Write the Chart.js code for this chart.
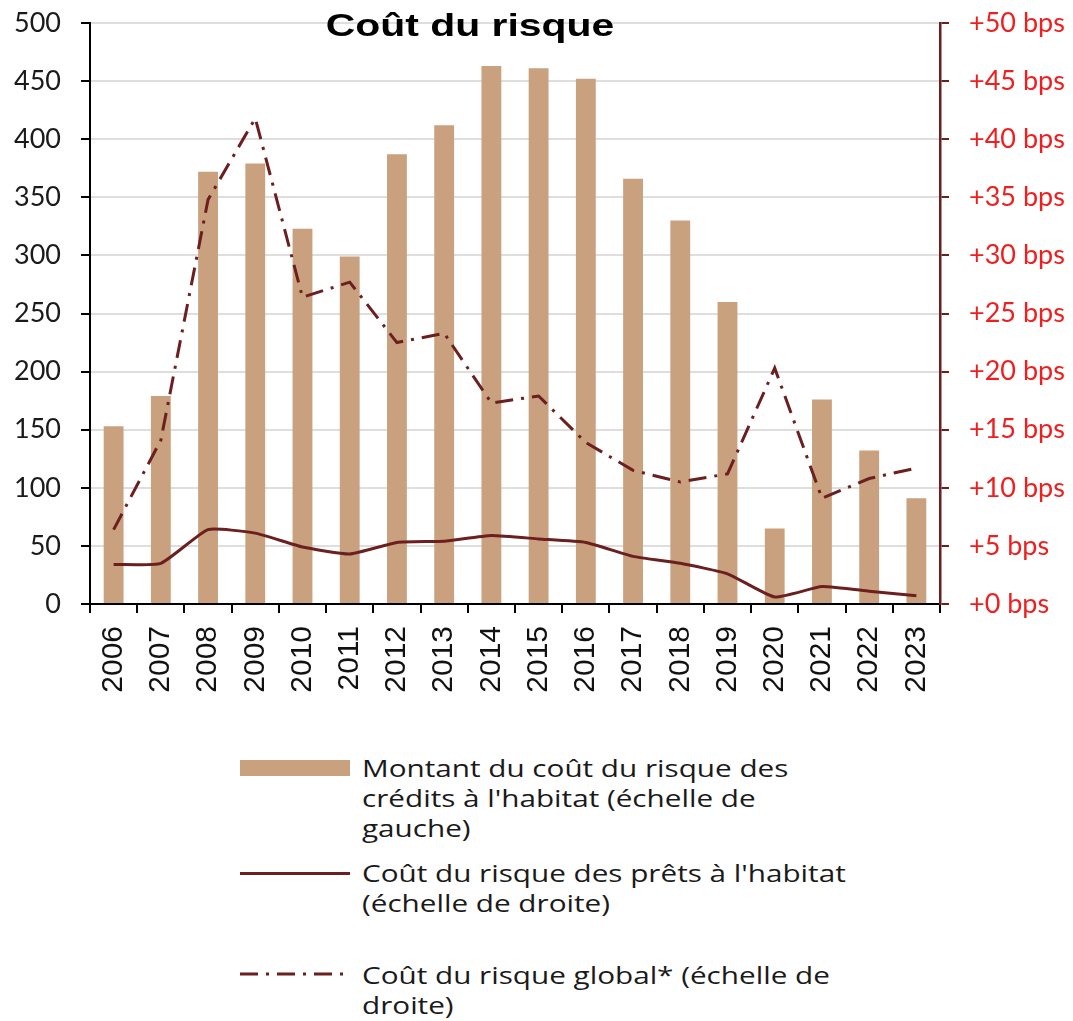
<!DOCTYPE html>
<html lang="fr">
<head>
<meta charset="utf-8">
<title>Coût du risque</title>
<script src="https://cdn.jsdelivr.net/npm/chart.js@4/dist/chart.umd.min.js"></script>
<style>
  html, body { margin: 0; padding: 0; background: #fff; }
  #wrap { position: relative; width: 1073px; height: 1021px; }
  #chart-box { position: absolute; left: 0; top: 0; width: 1073px; height: 700px; }
  #title {
    position: absolute; left: 270px; top: 8px; width: 400px; text-align: center;
    font-family: "Liberation Sans", Arial, sans-serif; font-weight: bold; font-size: 31px; color: #000;
    transform: scaleX(1.32); transform-origin: 200px 0;
  }
  #legend { position: absolute; left: 240px; top: 752px; font-family: "Open Sans", Lato, sans-serif; font-size: 23px; color: #1a1a1a; }
  .item { position: absolute; left: 0; width: 620px; }
  .item .txt { position: absolute; left: 122px; top: 1px; width: 500px; line-height: 30px; white-space: nowrap;
    transform: scaleX(1.29); transform-origin: 0 0; }
  .swatch { position: absolute; left: 0; width: 110px; }
</style>
</head>
<body>
<div id="wrap">
  <div id="chart-box"><canvas id="risk-chart" width="1073" height="700"></canvas></div>
  <div id="title">Coût du risque</div>
  <div id="legend">
    <div class="item" style="top:0">
      <div class="swatch" style="top:8px;height:16px;background:#c9a17f"></div>
      <div class="txt">Montant du coût du risque des<br>crédits à l'habitat (échelle de<br>gauche)</div>
    </div>
    <div class="item" style="top:105px">
      <div class="swatch" style="top:15px;height:0;border-top:3px solid #6b1f1f"></div>
      <div class="txt">Coût du risque des prêts à l'habitat<br>(échelle de droite)</div>
    </div>
    <div class="item" style="top:207px">
      <svg class="swatch" style="top:10px" width="110" height="10"><line x1="0" y1="5" x2="110" y2="5" stroke="#6b1f1f" stroke-width="3" stroke-dasharray="18,8,3,8"/></svg>
      <div class="txt">Coût du risque global* (échelle de<br>droite)</div>
    </div>
  </div>
</div>
<script>
// === data ===
const years = ['2006','2007','2008','2009','2010','2011','2012','2013','2014','2015','2016','2017','2018','2019','2020','2021','2022','2023'];
// montant du coût du risque (left scale)
const montant = [153, 179, 372, 379, 323, 299, 387, 412, 463, 461, 452, 366, 330, 260, 65, 176, 132, 91];
// coût du risque des prêts à l'habitat, bps (right scale)
const prets = [3.4, 3.5, 6.4, 6.1, 4.9, 4.3, 5.3, 5.4, 5.9, 5.6, 5.3, 4.1, 3.5, 2.6, 0.6, 1.5, 1.1, 0.7];
// coût du risque global, bps (right scale)
const globalRisk = [6.4, 14.1, 34.8, 41.8, 26.4, 27.7, 22.5, 23.3, 17.3, 17.9, 13.9, 11.5, 10.5, 11.2, 20.3, 9.1, 10.8, 11.7];
const leftTicks = [0, 50, 100, 150, 200, 250, 300, 350, 400, 450, 500];
const rightTicks = [0, 5, 10, 15, 20, 25, 30, 35, 40, 45, 50];

const maroon = '#6b1f1f';
const tan = '#c9a17f';

// tick padding otherwise pushes the plot area down
const fixPad = s => { s.paddingTop = 12; s.paddingBottom = 12; };

const ctx = document.getElementById('risk-chart');
new Chart(ctx, {
  type: 'bar',
  data: {
    labels: years,
    datasets: [
      {
        type: 'line',
        label: 'Coût du risque des prêts à l\'habitat (échelle de droite)',
        data: prets,
        yAxisID: 'yR',
        borderColor: maroon,
        borderWidth: 3,
        pointRadius: 0,
        tension: 0.15,
        order: 1
      },
      {
        type: 'line',
        label: 'Coût du risque global* (échelle de droite)',
        data: globalRisk,
        yAxisID: 'yR',
        borderColor: maroon,
        borderWidth: 3,
        borderDash: [18, 8, 3, 8],
        pointRadius: 0,
        tension: 0,
        order: 0
      },
      {
        label: 'Montant du coût du risque des crédits à l\'habitat (échelle de gauche)',
        data: montant,
        yAxisID: 'yL',
        backgroundColor: tan,
        barPercentage: 0.42,
        categoryPercentage: 1,
        order: 2
      }
    ]
  },
  options: {
    responsive: false,
    animation: false,
    layout: { padding: { top: 23, bottom: 0, left: 0, right: 0 } },
    plugins: {
      legend: { display: false },
      tooltip: { enabled: false },
      title: { display: false }
    },
    scales: {
      x: {
        offset: true,
        grid: { offset: true, drawOnChartArea: false, drawTicks: true, tickLength: 9, tickColor: '#000', lineWidth: 2 },
        border: { color: '#000', width: 2 },
        ticks: {
          color: '#111', maxRotation: 90, minRotation: 90, padding: 13,
          font: { family: '"Liberation Sans", Arial, sans-serif', size: 30 }
        },
        afterFit: s => { s.height = 96; }
      },
      yL: {
        position: 'left',
        min: 0, max: 500,
        afterBuildTicks: s => { s.ticks = leftTicks.map(v => ({ value: v })); },
        grid: { color: '#dedede', lineWidth: 2, tickLength: 9, tickColor: '#000' },
        border: { color: '#000', width: 2 },
        ticks: { color: '#1a1a1a', padding: 20, font: { family: 'Lato, sans-serif', size: 27 } },
        afterFit: s => { s.width = 90; fixPad(s); }
      },
      yR: {
        position: 'right',
        min: 0, max: 50,
        afterBuildTicks: s => { s.ticks = rightTicks.map(v => ({ value: v })); },
        grid: { drawOnChartArea: false, tickLength: 9, tickColor: maroon, lineWidth: 2 },
        border: { color: maroon, width: 2.5 },
        ticks: {
          color: '#f01e1e', padding: 20, font: { family: 'Lato, sans-serif', size: 27 },
          callback: v => '+' + v + ' bps'
        },
        afterFit: s => { s.width = 133; fixPad(s); }
      }
    }
  }
});
</script>
</body>
</html>
